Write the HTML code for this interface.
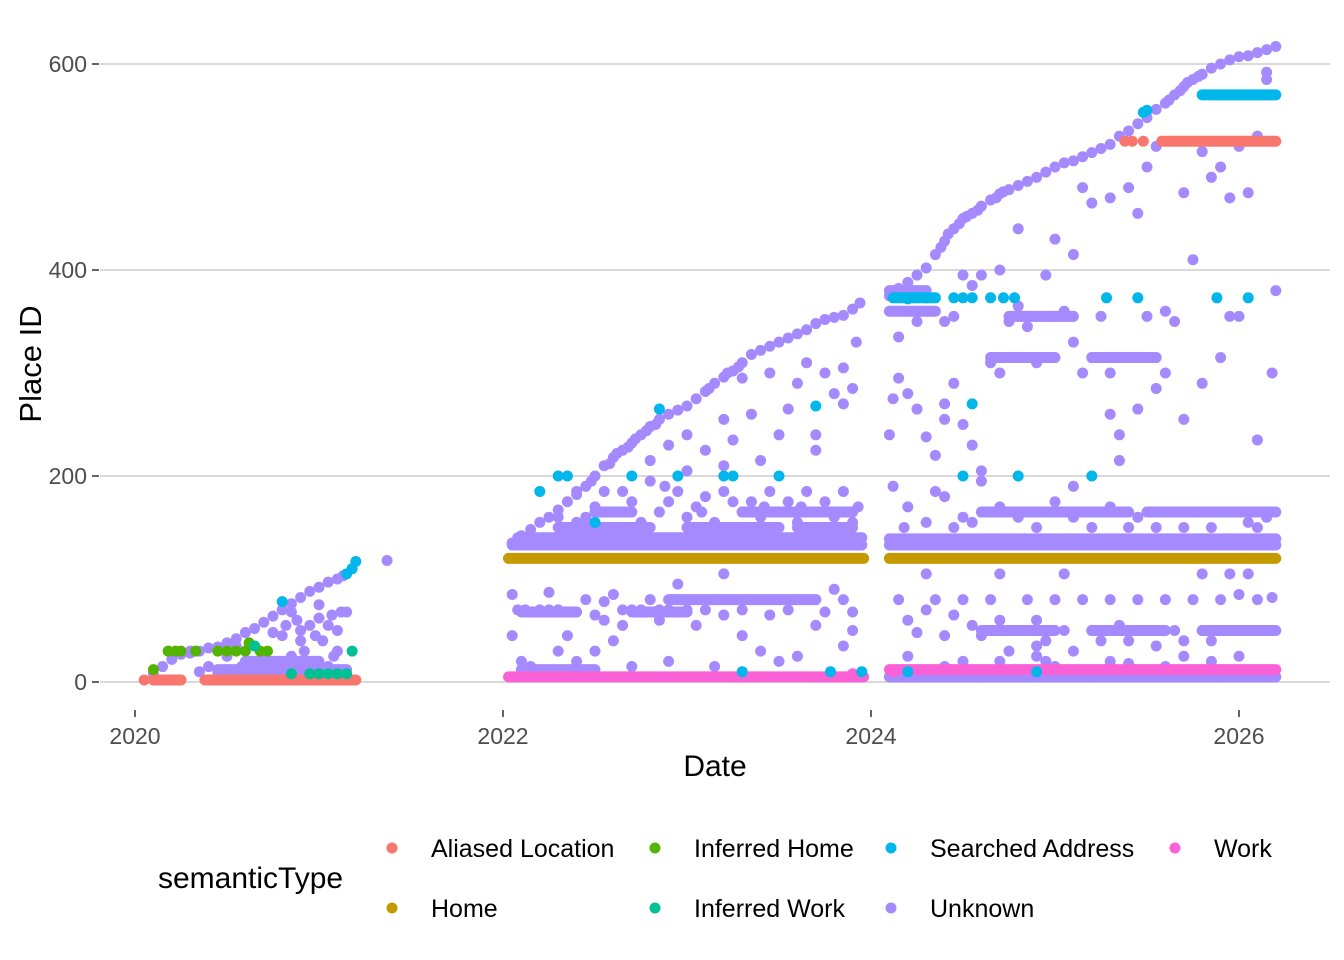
<!DOCTYPE html>
<html><head><meta charset="utf-8"><style>
body{margin:0;background:#fff;}
svg{display:block;font-family:"Liberation Sans",sans-serif;}
</style></head><body>
<svg id="chart" width="1344" height="960">
<g id="grid"></g>
<g id="marks"></g>
<g id="axes"></g>
<text x="715" y="776" font-size="30" text-anchor="middle" fill="#000">Date</text>
<text x="0" y="0" font-size="31" text-anchor="middle" fill="#000" transform="translate(41,364) rotate(-90)">Place ID</text>
<g>
<text x="158" y="888" font-size="30" fill="#000">semanticType</text>
<g id="legend"></g>
</g>
</svg>
<script>
// axis ticks
const xTicks = [2020, 2022, 2024, 2026];
const yTicks = [0, 200, 400, 600];
// categories / colors
const categories = ["Aliased Location","Home","Inferred Home","Inferred Work","Searched Address","Unknown","Work"];
const colors = {"Aliased Location":"#F8766D","Home":"#C49A00","Inferred Home":"#53B400","Inferred Work":"#00C094","Searched Address":"#00B6EB","Unknown":"#A58AFF","Work":"#FB61D7"};
// dense runs of consecutive visits: [startDate, endDate, placeId]
const unknownRuns = [[2022.05,2023.95,133],[2022.08,2023.95,140],[2022.3,2022.8,150],[2023.0,2023.5,150],[2023.6,2023.9,150],[2022.5,2022.7,165],[2023.3,2023.9,165],[2024.1,2026.2,133],[2024.1,2026.2,139],[2024.6,2025.4,165],[2025.5,2026.2,165],[2024.1,2024.35,360],[2024.1,2024.3,380],[2024.65,2025.0,315],[2025.2,2025.55,315],[2024.75,2025.1,355],[2020.45,2021.15,12],[2020.6,2021.0,20],[2022.1,2022.4,68],[2022.7,2023.0,68],[2022.9,2023.7,80],[2024.6,2025.0,50],[2025.2,2025.6,50],[2025.8,2026.2,50],[2022.1,2022.5,12],[2024.1,2026.2,5]];
const homeRuns = [[2022.03,2023.96,120],[2024.1,2026.2,120]];
const workRuns = [[2022.03,2023.96,5],[2024.1,2026.2,12]];
const aliasedRuns = [[2020.1,2020.25,2],[2020.38,2021.2,2],[2025.58,2026.2,525]];
const searchedRuns = [[2024.12,2024.35,373],[2025.8,2026.2,570]];
// scattered points: [date, placeId]
const unknownPts = [
[2020.1,8],[2020.15,15],[2020.2,22],[2020.25,27],[2020.3,28],[2020.35,30],[2020.4,33],[2020.45,34],[2020.5,38],[2020.55,42],[2020.6,48],[2020.65,52],[2020.7,58],[2020.75,64],[2020.8,70],[2020.85,76],[2020.9,82],[2020.95,88],[2021.0,92],[2021.05,97],[2021.1,100],[2021.13,103],[2021.37,118],
[2020.35,10],[2020.45,10],[2020.55,35],[2020.65,15],[2020.7,28],[2020.75,48],[2020.8,45],[2020.85,68],[2020.88,60],[2020.9,50],[2020.92,30],[2020.95,55],[2021.0,62],[2021.02,40],[2021.05,55],[2021.08,25],[2021.1,50],[2021.12,68],[2021.15,68],[2020.5,25],[2020.58,15],[2020.68,5],[2020.78,8],[2020.85,25],[2020.95,15],[2021.05,15],[2020.3,30],[2020.4,15],[2021.0,75],[2020.9,40],[2021.1,30],[2020.82,55],[2020.98,45],[2021.07,65],
[2022.05,135],[2022.1,142],[2022.15,148],[2022.2,155],[2022.25,160],[2022.3,167],[2022.35,175],[2022.4,182],[2022.45,190],[2022.5,200],[2022.55,210],[2022.6,218],[2022.65,225],[2022.7,232],[2022.75,240],[2022.8,248],[2022.85,255],[2022.9,260],[2022.95,264],[2023.0,268],[2023.05,275],[2023.1,282],[2023.15,290],[2023.2,296],[2023.25,302],[2023.3,310],[2023.35,318],[2023.4,322],[2023.45,326],[2023.5,330],[2023.55,334],[2023.6,338],[2023.65,342],[2023.7,348],[2023.75,352],[2023.8,354],[2023.85,356],[2023.9,362],[2023.94,368],
[2022.58,212],[2022.62,222],[2022.68,228],[2022.72,236],[2022.78,244],[2022.83,250],[2023.12,285],[2023.22,300],[2023.28,306],[2022.4,185],[2022.48,195],
[2022.05,85],[2022.08,70],[2022.05,45],[2022.1,20],[2022.12,70],[2022.2,70],[2022.25,70],[2022.3,70],[2022.35,68],[2022.15,15],[2022.3,30],[2022.35,45],[2022.45,80],[2022.5,65],[2022.55,78],[2022.6,85],[2022.65,70],[2022.7,70],[2022.75,70],[2022.8,80],[2022.85,70],[2022.9,70],[2022.95,80],[2023.0,70],[2023.05,80],[2023.1,70],[2023.15,80],[2023.2,65],[2023.25,80],[2023.3,70],[2023.35,80],[2023.45,65],[2023.5,80],[2023.55,70],[2023.6,80],[2023.65,80],[2023.7,80],[2023.75,68],[2023.8,90],[2023.85,80],[2023.9,68],[2022.4,20],[2022.5,30],[2022.6,40],[2022.7,15],[2022.95,95],[2023.15,15],[2023.2,105],[2023.4,30],[2023.6,25],[2023.85,35],[2023.9,50],[2022.25,87],[2022.55,60],[2022.65,55],[2022.85,60],[2023.05,55],[2023.3,45],[2023.5,20],[2023.7,55],[2022.9,20],
[2022.3,160],[2022.4,155],[2022.5,170],[2022.55,185],[2022.6,165],[2022.7,175],[2022.75,155],[2022.8,195],[2022.85,165],[2022.9,175],[2022.95,185],[2023.0,160],[2023.05,170],[2023.1,180],[2023.15,155],[2023.2,185],[2023.3,165],[2023.35,175],[2023.4,160],[2023.45,185],[2023.5,165],[2023.55,175],[2023.6,155],[2023.65,185],[2023.7,165],[2023.75,175],[2023.8,160],[2023.85,185],[2023.9,155],[2023.93,170],[2022.45,160],[2022.65,185],[2022.88,190],[2023.08,165],[2023.25,175],[2023.42,170],[2023.62,170],[2023.82,165],
[2022.8,215],[2022.9,230],[2023.0,240],[2023.1,225],[2023.2,255],[2023.25,235],[2023.35,260],[2023.4,215],[2023.5,240],[2023.55,265],[2023.6,290],[2023.7,225],[2023.75,300],[2023.8,280],[2023.85,270],[2023.9,285],[2023.92,330],[2023.3,295],[2023.45,300],[2023.65,310],[2023.2,210],[2023.0,205],[2023.7,240],[2023.85,305],
[2024.1,375],[2024.15,382],[2024.2,388],[2024.25,395],[2024.3,402],[2024.35,415],[2024.4,428],[2024.45,440],[2024.5,450],[2024.55,455],[2024.6,462],[2024.65,468],[2024.7,474],[2024.75,478],[2024.8,482],[2024.85,486],[2024.9,490],[2024.95,495],[2025.0,500],[2025.05,504],[2025.1,506],[2025.15,510],[2025.2,514],[2025.25,518],[2025.3,522],[2025.35,530],[2025.4,535],[2025.45,542],[2025.5,548],[2025.55,556],[2025.6,562],[2025.65,570],[2025.7,578],[2025.75,585],[2025.8,590],[2025.85,596],[2025.9,600],[2025.95,604],[2026.0,607],[2026.05,608],[2026.1,611],[2026.15,614],[2026.2,617],
[2024.38,422],[2024.42,435],[2024.48,445],[2024.52,452],[2024.58,458],[2024.68,470],[2024.72,476],[2025.62,565],[2025.68,574],[2025.72,582],[2025.78,588],
[2024.1,240],[2024.12,275],[2024.15,335],[2024.2,280],[2024.25,265],[2024.3,238],[2024.35,220],[2024.4,270],[2024.45,290],[2024.5,250],[2024.55,230],[2024.6,205],[2024.65,310],[2024.7,300],[2024.75,350],[2024.8,365],[2024.85,345],[2024.9,310],[2024.95,315],[2025.0,355],[2025.05,360],[2025.1,330],[2025.15,300],[2025.2,315],[2025.25,355],[2025.3,300],[2025.35,240],[2025.4,315],[2025.45,265],[2025.5,355],[2025.55,285],[2025.6,360],[2025.65,350],[2025.7,255],[2025.75,410],[2025.8,290],[2025.9,315],[2025.95,355],[2026.0,355],[2026.1,235],[2026.18,300],[2024.6,395],[2024.7,400],[2024.95,395],[2025.0,430],[2025.2,465],[2025.3,470],[2025.4,480],[2025.5,500],[2025.7,475],[2025.85,490],[2025.95,470],[2026.05,475],[2026.1,530],[2026.15,585],[2026.2,380],[2025.8,515],[2024.8,440],[2025.1,415],[2024.4,350],[2024.3,360],[2024.5,395],[2024.55,385],[2025.15,480],[2025.55,520],[2025.9,500],[2026.0,520],[2026.15,592],[2025.45,455],[2024.25,350],[2024.45,355],[2025.3,260],[2025.6,300],[2024.4,255],[2024.15,295],
[2024.12,190],[2024.2,170],[2024.3,155],[2024.4,180],[2024.5,160],[2024.6,195],[2024.7,170],[2024.8,160],[2024.9,150],[2025.0,175],[2025.1,160],[2025.2,150],[2025.3,170],[2025.45,160],[2025.55,150],[2025.65,165],[2025.75,165],[2025.85,150],[2025.95,165],[2026.05,155],[2026.15,160],[2025.1,190],[2025.35,215],[2024.35,185],[2024.18,150],[2024.45,150],[2024.55,155],[2025.4,150],[2025.7,150],[2026.1,150],
[2024.15,80],[2024.2,60],[2024.25,48],[2024.3,70],[2024.35,80],[2024.4,45],[2024.45,65],[2024.5,80],[2024.55,55],[2024.6,45],[2024.65,80],[2024.7,60],[2024.75,30],[2024.8,50],[2024.85,80],[2024.9,60],[2024.95,40],[2025.0,80],[2025.05,50],[2025.1,30],[2025.15,80],[2025.2,50],[2025.25,40],[2025.3,80],[2025.35,55],[2025.4,40],[2025.45,80],[2025.5,50],[2025.55,35],[2025.6,80],[2025.65,50],[2025.7,40],[2025.75,80],[2025.8,50],[2025.85,40],[2025.9,80],[2025.95,50],[2026.0,85],[2026.05,50],[2026.1,80],[2026.15,50],[2026.18,82],[2024.3,105],[2024.7,105],[2025.05,105],[2025.8,105],[2025.95,105],[2026.05,105],[2024.2,25],[2024.5,20],[2024.9,25],[2025.3,20],[2025.7,25],[2026.0,25],[2024.6,5],[2025.2,5],[2025.9,5],[2024.9,35],[2024.95,20],[2025.0,15],[2025.4,18],[2025.6,15],[2025.85,20],[2024.4,15],[2024.7,20]
];
const homePts = [];
const workPts = [[2023.9,8],[2024.12,10]];
const aliasedPts = [[2025.38,525],[2025.42,525],[2025.48,525],[2020.05,2]];
const searchedPts = [[2020.8,78],[2021.15,105],[2021.18,110],[2021.2,117],[2022.3,200],[2022.35,200],[2022.2,185],[2022.5,155],[2022.7,200],[2022.95,200],[2023.2,200],[2023.25,200],[2023.5,200],[2022.85,265],[2023.7,268],[2023.78,10],[2023.95,10],[2023.3,10],[2024.2,372],[2024.25,373],[2024.3,373],[2024.45,373],[2024.5,373],[2024.55,373],[2024.65,373],[2024.72,373],[2024.78,373],[2025.28,373],[2025.88,373],[2025.45,373],[2026.05,373],[2024.55,270],[2024.5,200],[2024.8,200],[2025.2,200],[2025.48,553],[2025.5,555],[2024.2,10],[2024.9,10]];
const inferredHomePts = [[2020.1,12],[2020.18,30],[2020.22,30],[2020.25,30],[2020.33,30],[2020.45,30],[2020.5,30],[2020.55,30],[2020.6,30],[2020.68,30],[2020.72,30],[2020.62,38]];
const inferredWorkPts = [[2020.85,8],[2020.95,8],[2021.0,8],[2021.05,8],[2021.1,8],[2021.15,8],[2021.18,30],[2020.65,35]];

const X0=135, PXY=184, Y0=682, PXU=1.03;
const xS = d => X0 + (d-2020)*PXY;
const yS = v => Y0 - v*PXU;
const NS="http://www.w3.org/2000/svg";
const R=5.5;

const grid=document.getElementById('grid');
yTicks.forEach(t=>{
  const l=document.createElementNS(NS,'line');
  l.setAttribute('x1',100);l.setAttribute('x2',1330);
  l.setAttribute('y1',yS(t));l.setAttribute('y2',yS(t));
  l.setAttribute('stroke','#d9d9d9');l.setAttribute('stroke-width','2');
  
  
  grid.appendChild(l);
});
const axes=document.getElementById('axes');
yTicks.forEach(t=>{
  const tk=document.createElementNS(NS,'line');
  tk.setAttribute('x1',92);tk.setAttribute('x2',99);tk.setAttribute('y1',yS(t));tk.setAttribute('y2',yS(t));
  tk.setAttribute('stroke','#333');tk.setAttribute('stroke-width','1.5');
  
  
  axes.appendChild(tk);
  const tx=document.createElementNS(NS,'text');
  tx.setAttribute('x',87);tx.setAttribute('y',yS(t)+8);tx.setAttribute('text-anchor','end');
  tx.setAttribute('font-size','23');tx.setAttribute('fill','#4d4d4d');
  tx.textContent=t;
  
  
  axes.appendChild(tx);
});
xTicks.forEach(t=>{
  const tk=document.createElementNS(NS,'line');
  tk.setAttribute('x1',xS(t));tk.setAttribute('x2',xS(t));tk.setAttribute('y1',710);tk.setAttribute('y2',717);
  tk.setAttribute('stroke','#333');tk.setAttribute('stroke-width','1.5');
  
  
  axes.appendChild(tk);
  const tx=document.createElementNS(NS,'text');
  tx.setAttribute('x',xS(t));tx.setAttribute('y',744);tx.setAttribute('text-anchor','middle');
  tx.setAttribute('font-size','23');tx.setAttribute('fill','#4d4d4d');
  tx.textContent=t;
  
  
  axes.appendChild(tx);
});

const marks=document.getElementById('marks');
function drawRuns(runs,cat){
  runs.forEach(r=>{
    const l=document.createElementNS(NS,'line');
    l.setAttribute('x1',xS(r[0]));l.setAttribute('x2',xS(r[1]));
    l.setAttribute('y1',yS(r[2]));l.setAttribute('y2',yS(r[2]));
    l.setAttribute('stroke',colors[cat]);l.setAttribute('stroke-width',R*2);l.setAttribute('stroke-linecap','round');
    
    
    marks.appendChild(l);
  });
}
function drawPts(pts,cat){
  pts.forEach(p=>{
    const c=document.createElementNS(NS,'circle');
    c.setAttribute('cx',xS(p[0]));c.setAttribute('cy',yS(p[1]));c.setAttribute('r',R);
    c.setAttribute('fill',colors[cat]);
    
    
    marks.appendChild(c);
  });
}
drawRuns(unknownRuns,"Unknown");
drawPts(unknownPts,"Unknown");
drawRuns(homeRuns,"Home");
drawPts(homePts,"Home");
drawRuns(workRuns,"Work");
drawPts(workPts,"Work");
drawRuns(aliasedRuns,"Aliased Location");
drawPts(aliasedPts,"Aliased Location");
drawRuns(searchedRuns,"Searched Address");
drawPts(searchedPts,"Searched Address");
drawPts(inferredHomePts,"Inferred Home");
drawPts(inferredWorkPts,"Inferred Work");

const legendItems=[["Aliased Location",392,848],["Inferred Home",655,848],["Searched Address",891,848],["Work",1175,848],["Home",392,908],["Inferred Work",655,908],["Unknown",891,908]];
const lg=document.getElementById('legend');
legendItems.forEach(it=>{
  const c=document.createElementNS(NS,'circle');
  c.setAttribute('cx',it[1]);c.setAttribute('cy',it[2]);c.setAttribute('r',R);c.setAttribute('fill',colors[it[0]]);
  
  
  lg.appendChild(c);
  const t=document.createElementNS(NS,'text');
  t.setAttribute('x',it[1]+39);t.setAttribute('y',it[2]+9);t.setAttribute('font-size','25');t.setAttribute('fill','#000');
  t.textContent=it[0];
  
  
  lg.appendChild(t);
});
</script>
</body></html>
